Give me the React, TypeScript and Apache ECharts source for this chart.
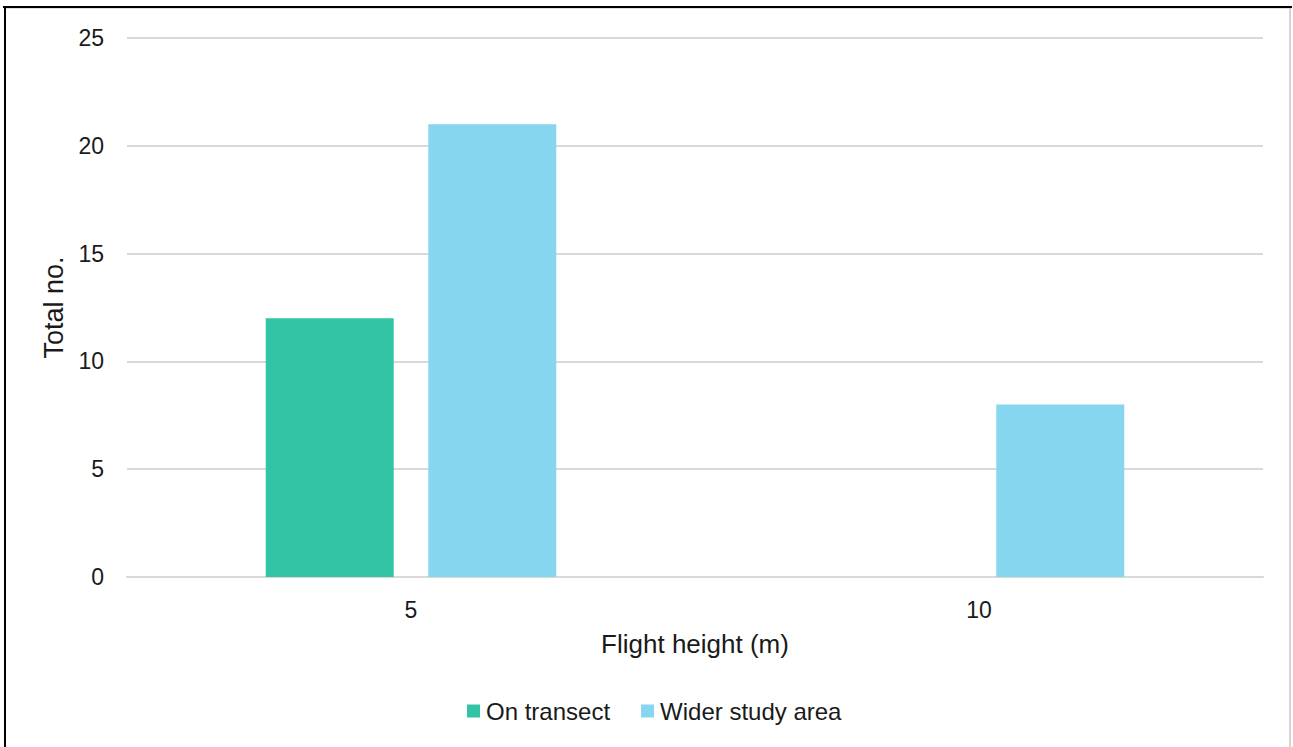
import React, { useEffect, useRef } from "react";
import * as echarts from "echarts";

const categories = ["5", "10"];
const onTransect = [12, 0];
const widerStudyArea = [21, 8];
const yTicks = { min: 0, max: 25, interval: 5 };

const FONT = "'Liberation Sans', Arial, sans-serif";

export default function App() {
  const ref = useRef<HTMLDivElement>(null);

  useEffect(() => {
    if (!ref.current) return;
    const chart = echarts.init(ref.current, undefined, { renderer: "svg" });
    chart.setOption({
      animation: false,
      backgroundColor: "#ffffff",
      textStyle: { fontFamily: FONT },
      grid: { left: 127, right: 30, top: 38, bottom: 170 },
      legend: {
        left: 467,
        top: 699,
        padding: 0,
        itemWidth: 13,
        itemHeight: 13,
        itemGap: 31,
        icon: "rect",
        textStyle: { fontSize: 24, color: "#1a1a1a", fontFamily: FONT, padding: [0, 0, 0, 1] },
        data: ["On transect", "Wider study area"],
      },
      xAxis: {
        type: "category",
        data: categories,
        name: "Flight height (m)",
        nameLocation: "middle",
        nameGap: 54,
        nameTextStyle: { fontSize: 26, color: "#1a1a1a", fontFamily: FONT },
        axisLine: { show: true, lineStyle: { color: "#d9d9d9", width: 2 } },
        axisTick: { show: false },
        axisLabel: { fontSize: 23, color: "#1a1a1a", margin: 21, fontFamily: FONT },
      },
      yAxis: {
        type: "value",
        min: yTicks.min,
        max: yTicks.max,
        interval: yTicks.interval,
        name: "Total no.",
        nameLocation: "middle",
        nameGap: 51,
        nameTextStyle: { fontSize: 27, color: "#1a1a1a", fontFamily: FONT },
        axisLine: { show: false },
        axisTick: { show: false },
        axisLabel: { fontSize: 23, color: "#1a1a1a", margin: 23, fontFamily: FONT },
        splitLine: { lineStyle: { color: "#d9d9d9", width: 2 } },
      },
      series: [
        {
          name: "On transect",
          type: "bar",
          data: onTransect,
          barWidth: 128,
          barGap: "27%",
          itemStyle: { color: "#33c3a5" },
        },
        {
          name: "Wider study area",
          type: "bar",
          data: widerStudyArea,
          barWidth: 128,
          barGap: "27%",
          itemStyle: { color: "#85d6ee" },
        },
      ],
      graphic: [
        { type: "line", shape: { x1: 4, y1: 8.5, x2: 1292, y2: 8.5 }, style: { stroke: "#e0e0e0", lineWidth: 1 }, silent: true },
        { type: "line", shape: { x1: 3, y1: 7, x2: 1292, y2: 7 }, style: { stroke: "#000000", lineWidth: 2 }, silent: true },
        { type: "line", shape: { x1: 5, y1: 6, x2: 5, y2: 747 }, style: { stroke: "#000000", lineWidth: 2 }, silent: true },
        { type: "line", shape: { x1: 1290, y1: 8, x2: 1290, y2: 747 }, style: { stroke: "#d4d4d4", lineWidth: 2 }, silent: true },
      ],
    });
    return () => chart.dispose();
  }, []);

  return (
    <div
      ref={ref}
      style={{ position: "fixed", left: 0, top: 0, width: 1293, height: 747 }}
    />
  );
}
